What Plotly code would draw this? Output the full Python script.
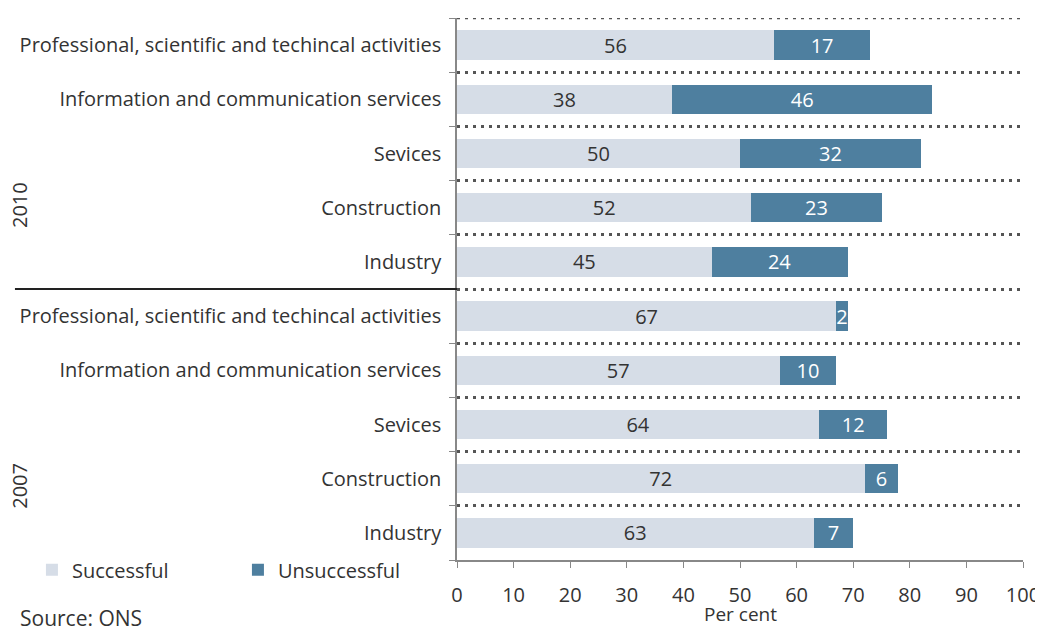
import plotly.graph_objects as go

years = ["2010", "2007"]
sectors = [
    "Professional, scientific and techincal activities",
    "Information and communication services",
    "Sevices",
    "Construction",
    "Industry",
]
successful_2010 = [56, 38, 50, 52, 45]
unsuccessful_2010 = [17, 46, 32, 23, 24]
successful_2007 = [67, 57, 64, 72, 63]
unsuccessful_2007 = [2, 10, 12, 6, 7]
x_ticks = [0, 10, 20, 30, 40, 50, 60, 70, 80, 90, 100]

labels = sectors + sectors
succ = successful_2010 + successful_2007
unsucc = unsuccessful_2010 + unsuccessful_2007
n = len(labels)
ypos = [n - 1 - i for i in range(n)]

FONT = "Open Sans"
FS = 20
TXT = "#333333"
C_SUCC = "#d6dde7"
C_UNS = "#4e7f9f"
GRID = dict(color="#555555", width=2.5, dash="3px,5px")

fig = go.Figure()
fig.add_trace(go.Bar(
    name="Successful", y=ypos, x=succ, orientation="h",
    marker=dict(color=C_SUCC, line=dict(width=0)), width=0.54,
    text=[str(v) for v in succ], textposition="inside", insidetextanchor="middle",
    textangle=0, textfont=dict(color=TXT, size=FS, family=FONT), constraintext="none",
    hoverinfo="skip",
))
fig.add_trace(go.Bar(
    name="Unsuccessful", y=ypos, x=unsucc, orientation="h",
    marker=dict(color=C_UNS, line=dict(width=0)), width=0.54,
    text=[str(v) for v in unsucc], textposition="inside", insidetextanchor="middle",
    textangle=0, textfont=dict(color="white", size=FS, family=FONT), constraintext="none",
    hoverinfo="skip",
))

fig.update_layout(
    barmode="stack",
    width=1043, height=626,
    margin=dict(l=449, r=28, t=10, b=74, autoexpand=False),
    paper_bgcolor="white", plot_bgcolor="white",
    font=dict(family=FONT, size=FS, color=TXT),
    showlegend=True,
    legend=dict(orientation="h", x=-0.751, y=0.018, xanchor="left", yanchor="top",
                traceorder="normal",
                font=dict(size=FS, color=TXT), entrywidth=161,
                bgcolor="rgba(0,0,0,0)", itemclick=False),
    uniformtext=dict(mode="show", minsize=10),
)
fig.update_xaxes(
    range=[0, 100], tickvals=x_ticks, showgrid=False, zeroline=False,
    showline=True, linecolor="#888888", linewidth=1.5,
    ticks="outside", ticklen=6, tickcolor="#888888", automargin=False,
    ticklabelstandoff=10,
    tickfont=dict(size=FS, color=TXT),
)
fig.update_yaxes(
    range=[-0.5, n - 0.5], tickvals=ypos, ticktext=labels,
    showgrid=False, zeroline=False, ticks="", ticklabelstandoff=10,
    showline=True, linecolor="#888888", linewidth=1.5, automargin=False,
    tickfont=dict(size=FS, color=TXT),
    minor=dict(tickmode="linear", tick0=0.5, dtick=1, ticks="outside", ticklen=6,
               tickcolor="#888888", showgrid=True, gridcolor=GRID["color"],
               gridwidth=GRID["width"], griddash=GRID["dash"]),
)

# top dotted gridline and tick (range edge)
fig.add_shape(type="line", xref="paper", yref="y", x0=0, x1=1,
              y0=n - 0.5, y1=n - 0.5, line=GRID, layer="above")
fig.add_shape(type="line", xref="paper", yref="y", x0=-0.0106, x1=0,
              y0=n - 0.5, y1=n - 0.5, line=dict(color="#888888", width=1.5))

# separator between year groups
fig.add_shape(type="line", xref="paper", yref="y", x0=-0.781, x1=0,
              y0=len(sectors) - 0.5, y1=len(sectors) - 0.5,
              line=dict(color="#222222", width=2))

fig.add_annotation(text=years[0], xref="paper", yref="y", x=-0.772, y=6.05,
                   xanchor="center", yanchor="middle",
                   textangle=-90, showarrow=False, font=dict(size=FS, color=TXT))
fig.add_annotation(text=years[1], xref="paper", yref="y", x=-0.772, y=0.87,
                   xanchor="center", yanchor="middle",
                   textangle=-90, showarrow=False, font=dict(size=FS, color=TXT))
fig.add_annotation(text="Per cent", xref="paper", yref="paper", x=0.5, y=-0.1,
                   xanchor="center", yanchor="middle", showarrow=False,
                   font=dict(size=19, color=TXT))
fig.add_annotation(text="Source: ONS", xref="paper", yref="paper", x=-0.776, y=-0.107,
                   xanchor="left", yanchor="middle", showarrow=False,
                   font=dict(size=21, color=TXT))

fig.write_html("out.html")
